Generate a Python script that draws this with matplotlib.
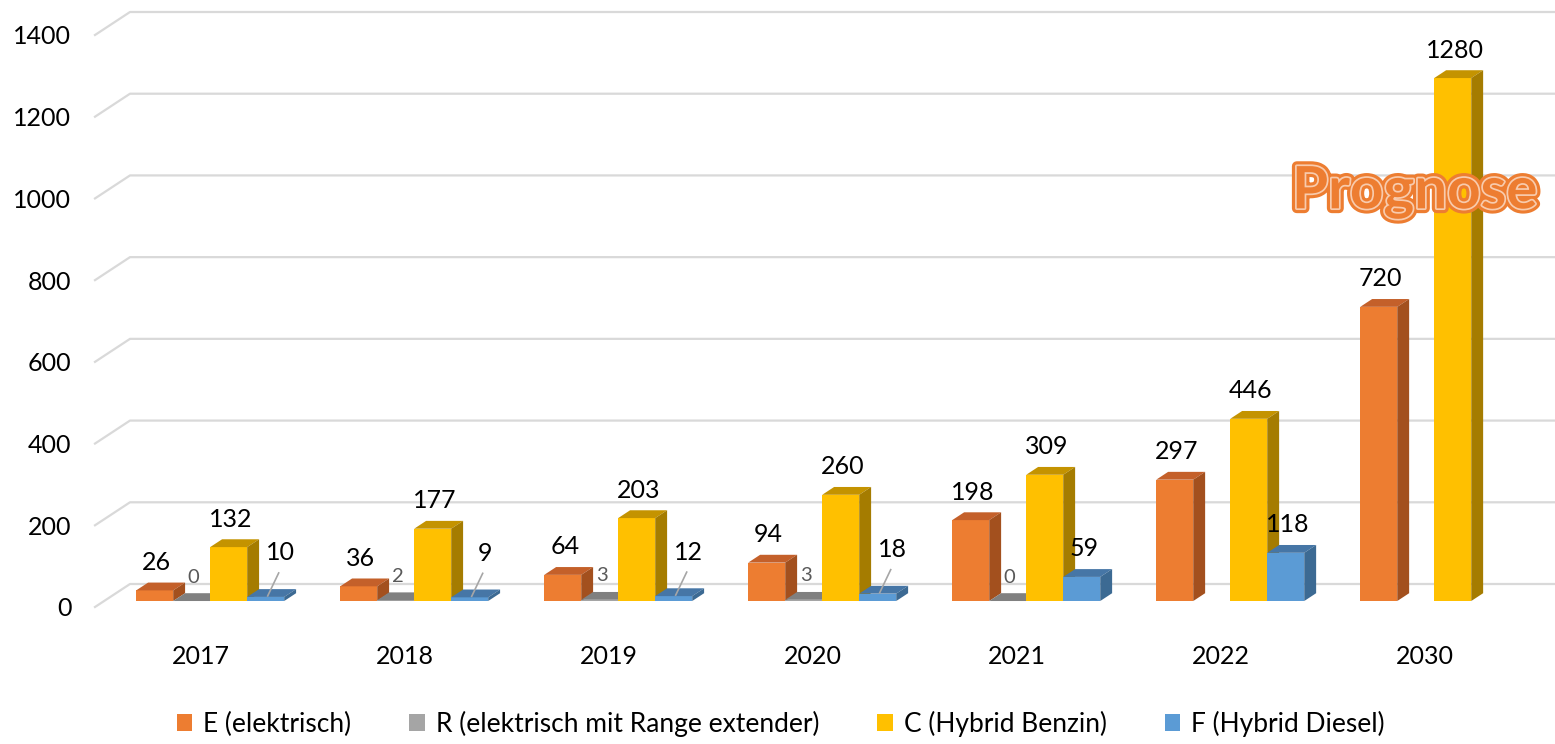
import numpy as np
import matplotlib
matplotlib.use("Agg")
import matplotlib.pyplot as plt
from matplotlib.patches import Polygon, Patch
import matplotlib.patheffects as pe

plt.rcParams['font.family'] = ['Lato', 'DejaVu Sans']

# Daten
years = ['2017', '2018', '2019', '2020', '2021', '2022', '2030']
e_elektrisch = [26, 36, 64, 94, 198, 297, 720]
r_range_ext = [0, 2, 3, 3, 0, np.nan, np.nan]
c_hybrid_benzin = [132, 177, 203, 260, 309, 446, 1280]
f_hybrid_diesel = [10, 9, 12, 18, 59, 118, np.nan]
series_names = ['E (elektrisch)', 'R (elektrisch mit Range extender)',
                'C (Hybrid Benzin)', 'F (Hybrid Diesel)']
yticks = [0, 200, 400, 600, 800, 1000, 1200, 1400]

series = [e_elektrisch, r_range_ext, c_hybrid_benzin, f_hybrid_diesel]
# Farben: Vorderseite, Oberseite, Seite
colors = [('#ED7D31', '#C4602A', '#A3501E'),
          ('#A5A5A5', '#808080', '#6E6E6E'),
          ('#FFC000', '#C49300', '#A57C00'),
          ('#5B9BD5', '#4676A6', '#3C6A93')]

fig = plt.figure(figsize=(15.55, 7.44), dpi=100)
ax = fig.add_axes([95 / 1555, (744 - 607) / 744, 1425 / 1555, 572 / 744])
x0, x1 = -0.52, 6.465
ax.set_xlim(x0, x1)
ax.set_ylim(0, 1400)
for s in ax.spines.values():
    s.set_visible(False)

# Pseudo-3D Parameter (in Datenkoordinaten)
px_x = (x1 - x0) / 1425      # Kategorie-Einheiten pro Pixel
px_y = 1400 / 572            # Werte pro Pixel
DX, DY = 35 * px_x, 23 * px_y
z0, z1 = 0.26, 0.6
w = 37 * px_x


def proj(x, v, z):
    return (x + z * DX, v + z * DY)


# Gitterlinien (Rückwand + Schräge links)
for v in yticks:
    pts = [(x0, v), proj(x0, v, 1), proj(x1, v, 1)]
    ax.plot(*zip(*pts), color='#D9D9D9', lw=1.6, clip_on=False, zorder=0)

zo = 2
for i in range(len(years)):
    for k, vals in enumerate(series):
        v = vals[i]
        if np.isnan(v):
            continue
        front, top, side = colors[k]
        xl = i - 2 * w + k * w
        xr = xl + w
        fx, fy = proj(xl, 0, z0)
        ax.bar(fx, v, bottom=fy, width=w, align='edge', color=front,
               lw=0, zorder=zo, clip_on=False)
        ax.add_patch(Polygon([proj(xl, v, z0), proj(xr, v, z0),
                              proj(xr, v, z1), proj(xl, v, z1)],
                             closed=True, fc=top, lw=0, zorder=zo, clip_on=False))
        ax.add_patch(Polygon([proj(xr, 0, z0), proj(xr, v, z0),
                              proj(xr, v, z1), proj(xr, 0, z1)],
                             closed=True, fc=side, lw=0, zorder=zo, clip_on=False))
        zo += 1

        cx = fx + w / 2 + 2 * px_x
        ty = fy + v
        if k == 1:
            ax.text(cx, ty + 24 * px_y, f'{v:.0f}', ha='center', va='center',
                    fontsize=14.5, color='#595959', zorder=50)
        elif k == 3 and v < 30:
            lx, ly = cx + 13 * px_x, ty + 44 * px_y
            ax.plot([cx, lx - 2 * px_x], [ty + 1 * px_y, ly - 20 * px_y],
                    color='#A6A6A6', lw=1.2, zorder=49, clip_on=False)
            ax.text(lx, ly, f'{v:.0f}', ha='center', va='center',
                    fontsize=18, color='black', zorder=50)
        else:
            ax.text(cx, ty + 28 * px_y, f'{v:.0f}', ha='center', va='center',
                    fontsize=18, color='black', zorder=50)

ax.set_yticks(yticks)
ax.set_yticklabels([str(t) for t in yticks], fontsize=18)
ax.set_xticks(range(len(years)))
ax.set_xticklabels(years, fontsize=18)
ax.tick_params(axis='y', length=0, pad=17)
ax.tick_params(axis='x', length=0, pad=27)

# Prognose-Schriftzug
ax.text(6.0 - 0.05, 1015, 'Prognose', ha='center', va='center', fontsize=42,
        fontweight='bold', color='#ED7D31', zorder=60,
        path_effects=[pe.Stroke(linewidth=7, foreground='#ED7D31'),
                      pe.Stroke(linewidth=2.5, foreground='#F8CBAD'),
                      pe.Normal()])

handles = [Patch(facecolor=c[0], edgecolor='none') for c in colors]
fig.legend(handles, series_names, loc='lower center', ncol=4, frameon=False,
           fontsize=19, handlelength=0.6, handleheight=0.6, handletextpad=0.4,
           columnspacing=2.2, bbox_to_anchor=(0.502, -0.022))

fig.savefig('out.png', dpi=100)
